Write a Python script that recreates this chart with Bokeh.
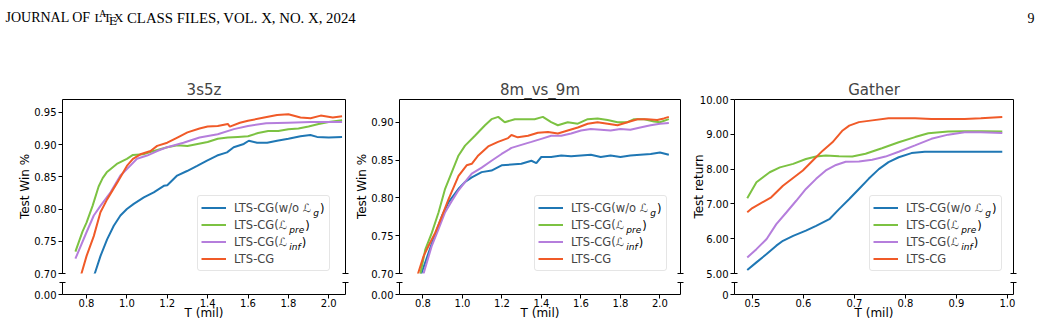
import math
from bokeh.plotting import figure
from bokeh.models import (Range1d, LinearAxis, FixedTicker, PrintfTickFormatter,
                          Label, Legend, LegendItem)
from bokeh.layouts import column, row
from bokeh.embed import file_html
from bokeh.resources import INLINE

# ---------------- data: 3s5z ----------------
s3_wo_t = [0.745, 0.79, 0.841, 0.869, 0.902, 0.935, 0.968, 1.0, 1.034, 1.084, 1.133, 1.183, 1.2, 1.249,
           1.298, 1.348, 1.397, 1.447, 1.496, 1.529, 1.579, 1.604, 1.645, 1.695, 1.744, 1.80, 1.86,
           1.909, 1.942, 2.0, 2.066]
s3_wo_v = [0.625, 0.665, 0.70, 0.727, 0.753, 0.774, 0.790, 0.80, 0.808, 0.818, 0.826, 0.836, 0.837, 0.852,
           0.859, 0.867, 0.875, 0.883, 0.888, 0.896, 0.901, 0.906, 0.903, 0.903, 0.906, 0.909, 0.913,
           0.915, 0.912, 0.911, 0.912]
s3_pre_t = [0.745, 0.78, 0.80, 0.83, 0.86, 0.88, 0.90, 0.95, 1.00, 1.03, 1.08, 1.12, 1.2, 1.25, 1.3, 1.35,
            1.4, 1.45, 1.5, 1.55, 1.6, 1.65, 1.7, 1.75, 1.8, 1.85, 1.9, 1.95, 2.0, 2.066]
s3_pre_v = [0.734, 0.765, 0.779, 0.805, 0.835, 0.848, 0.857, 0.870, 0.878, 0.884, 0.885, 0.889, 0.896,
            0.899, 0.898, 0.901, 0.904, 0.909, 0.911, 0.912, 0.913, 0.918, 0.921, 0.921, 0.924, 0.925,
            0.928, 0.932, 0.935, 0.938]
s3_inf_t = [0.745, 0.8, 0.836, 0.869, 0.919, 0.968, 1.0, 1.05, 1.10, 1.15, 1.2, 1.28, 1.36, 1.45, 1.53,
            1.60, 1.69, 1.80, 1.91, 2.0, 2.066]
s3_inf_v = [0.723, 0.764, 0.790, 0.805, 0.826, 0.852, 0.862, 0.878, 0.883, 0.890, 0.896, 0.903, 0.911,
            0.916, 0.924, 0.929, 0.933, 0.934, 0.935, 0.935, 0.935]
s3_cg_t = [0.745, 0.775, 0.8, 0.836, 0.869, 0.902, 0.952, 1.0, 1.03, 1.067, 1.117, 1.15, 1.2, 1.25, 1.30,
           1.36, 1.40, 1.45, 1.50, 1.51, 1.56, 1.60, 1.68, 1.744, 1.80, 1.86, 1.91, 1.96, 2.02, 2.066]
s3_cg_v = [0.675, 0.70, 0.727, 0.758, 0.795, 0.815, 0.841, 0.867, 0.878, 0.885, 0.890, 0.898, 0.903,
           0.911, 0.919, 0.925, 0.928, 0.929, 0.932, 0.928, 0.934, 0.937, 0.942, 0.946, 0.947, 0.942,
           0.941, 0.945, 0.942, 0.944]

# ---------------- data: 8m_vs_9m ----------------
m8_wo_t = [0.745, 0.792, 0.829, 0.862, 0.896, 0.929, 0.98, 1.013, 1.047, 1.097, 1.147, 1.198, 1.248,
           1.298, 1.349, 1.374, 1.399, 1.449, 1.5, 1.55, 1.6, 1.65, 1.70, 1.75, 1.80, 1.85, 1.90, 1.953,
           2.0, 2.045]
m8_wo_v = [0.665, 0.70, 0.728, 0.752, 0.776, 0.794, 0.812, 0.821, 0.827, 0.834, 0.836, 0.843, 0.844,
           0.845, 0.849, 0.846, 0.854, 0.854, 0.856, 0.855, 0.856, 0.857, 0.854, 0.856, 0.854, 0.856,
           0.857, 0.858, 0.860, 0.857]
m8_pre_t = [0.745, 0.787, 0.812, 0.845, 0.879, 0.912, 0.946, 0.98, 1.013, 1.063, 1.114, 1.147, 1.181,
            1.214, 1.265, 1.315, 1.365, 1.407, 1.449, 1.483, 1.533, 1.584, 1.634, 1.684, 1.735, 1.785,
            1.835, 1.869, 1.92, 1.97, 2.0, 2.045]
m8_pre_v = [0.67, 0.70, 0.732, 0.754, 0.781, 0.812, 0.834, 0.856, 0.869, 0.882, 0.896, 0.904, 0.907,
            0.900, 0.904, 0.904, 0.904, 0.907, 0.900, 0.896, 0.900, 0.898, 0.904, 0.905, 0.903, 0.900,
            0.900, 0.904, 0.904, 0.901, 0.900, 0.904]
m8_inf_t = [0.745, 0.803, 0.845, 0.879, 0.912, 0.946, 0.98, 1.013, 1.047, 1.097, 1.147, 1.198, 1.248,
            1.298, 1.349, 1.399, 1.449, 1.5, 1.55, 1.6, 1.65, 1.70, 1.75, 1.80, 1.85, 1.90, 1.953, 2.0,
            2.045]
m8_inf_v = [0.66, 0.70, 0.737, 0.759, 0.781, 0.796, 0.810, 0.821, 0.832, 0.840, 0.849, 0.858, 0.866,
            0.870, 0.874, 0.878, 0.882, 0.882, 0.885, 0.889, 0.891, 0.890, 0.889, 0.891, 0.890, 0.893,
            0.896, 0.898, 0.899]
m8_cg_t = [0.745, 0.775, 0.803, 0.829, 0.862, 0.896, 0.929, 0.980, 1.021, 1.047, 1.08, 1.13, 1.18, 1.231,
           1.248, 1.28, 1.332, 1.382, 1.433, 1.483, 1.533, 1.584, 1.634, 1.684, 1.735, 1.785, 1.835,
           1.886, 1.936, 1.986, 2.02, 2.045]
m8_cg_v = [0.675, 0.70, 0.723, 0.737, 0.754, 0.776, 0.798, 0.829, 0.843, 0.845, 0.856, 0.868, 0.874,
           0.879, 0.883, 0.880, 0.882, 0.886, 0.887, 0.885, 0.889, 0.893, 0.898, 0.900, 0.898, 0.896,
           0.900, 0.904, 0.904, 0.903, 0.905, 0.907]

# ---------------- data: Gather ----------------
ga_wo_t = [0.49, 0.508, 0.528, 0.547, 0.56, 0.58, 0.605, 0.625, 0.651, 0.67, 0.69, 0.709, 0.728, 0.748,
           0.767, 0.787, 0.812, 0.838, 0.884, 0.94, 0.99]
ga_wo_v = [5.10, 5.32, 5.56, 5.80, 5.94, 6.08, 6.23, 6.37, 6.56, 6.85, 7.14, 7.43, 7.72, 8.0, 8.20, 8.34,
           8.46, 8.50, 8.50, 8.50, 8.50]
ga_pre_t = [0.49, 0.508, 0.534, 0.554, 0.58, 0.605, 0.625, 0.644, 0.67, 0.696, 0.722, 0.754, 0.787, 0.819,
            0.845, 0.884, 0.916, 0.95, 0.99]
ga_pre_v = [7.16, 7.62, 7.91, 8.05, 8.15, 8.29, 8.36, 8.39, 8.37, 8.36, 8.44, 8.60, 8.77, 8.92, 9.03,
            9.08, 9.09, 9.09, 9.08]
ga_inf_t = [0.49, 0.508, 0.528, 0.547, 0.567, 0.586, 0.605, 0.625, 0.644, 0.664, 0.683, 0.709, 0.735,
            0.761, 0.787, 0.819, 0.851, 0.884, 0.916, 0.948, 0.99]
ga_inf_v = [5.46, 5.70, 5.99, 6.42, 6.76, 7.09, 7.43, 7.72, 7.96, 8.12, 8.21, 8.22, 8.27, 8.36, 8.50,
            8.68, 8.87, 8.99, 9.06, 9.06, 9.04]
ga_cg_t = [0.49, 0.5, 0.537, 0.56, 0.599, 0.618, 0.638, 0.657, 0.677, 0.69, 0.709, 0.735, 0.767, 0.819,
           0.851, 0.884, 0.916, 0.948, 0.99]
ga_cg_v = [6.76, 6.88, 7.19, 7.52, 7.96, 8.24, 8.53, 8.77, 9.11, 9.25, 9.35, 9.40, 9.46, 9.46, 9.44,
           9.44, 9.44, 9.46, 9.50]

# ---------------- labels / ticks ----------------
titles = ["3s5z", "8m_vs_9m", "Gather"]
ylabels = ["Test Win %", "Test Win %", "Test return"]
xlabel = "T (mil)"
legend_main = ["LTS-CG(w/o ℒ", "LTS-CG(ℒ", "LTS-CG(ℒ", "LTS-CG"]
legend_sub = ["g", "pre", "inf", ""]
colors = ["#1f77b4", "#7cc242", "#b57edc", "#f05a28"]
yticks = [[0.70, 0.75, 0.80, 0.85, 0.90, 0.95],
          [0.70, 0.75, 0.80, 0.85, 0.90],
          [5.0, 6.0, 7.0, 8.0, 9.0, 10.0]]
xticks = [[0.8, 1.0, 1.2, 1.4, 1.6, 1.8, 2.0],
          [0.8, 1.0, 1.2, 1.4, 1.6, 1.8, 2.0],
          [0.5, 0.6, 0.7, 0.8, 0.9, 1.0]]
low_tick_fmt = ["%.2f", "%.2f", "%d"]
header_left = "JOURNAL OF"
header_right = "CLASS FILES, VOL. X, NO. X, 2024"
page_no = "9"

panel_data = [
    [(s3_wo_t, s3_wo_v), (s3_pre_t, s3_pre_v), (s3_inf_t, s3_inf_v), (s3_cg_t, s3_cg_v)],
    [(m8_wo_t, m8_wo_v), (m8_pre_t, m8_pre_v), (m8_inf_t, m8_inf_v), (m8_cg_t, m8_cg_v)],
    [(ga_wo_t, ga_wo_v), (ga_pre_t, ga_pre_v), (ga_inf_t, ga_inf_v), (ga_cg_t, ga_cg_v)],
]

# ---------------- layout ----------------
FONT = "DejaVu Sans"
HEAD_H, UP_H, LO_H = 75, 206, 44
UP_TOP, UP_BOT, LO_TOP, LO_BOT = 24, 8, 1, 31
panel_geo = [  # fig width, border left, border right, x range, y range, y-label standoff
    dict(w=352, bl=62, br=7, xr=(0.681, 2.083), yr=(0.70, 0.97), ls=-1),
    dict(w=336, bl=45, br=8, xr=(0.681, 2.104), yr=(0.70, 0.93), ls=-1),
    dict(w=353, bl=43, br=28, xr=(0.465, 1.012), yr=(5.0, 10.0), ls=-9),
]

DJV = {' ': 0.318, '(': 0.390, ')': 0.390, '-': 0.361, '/': 0.337, 'C': 0.698, 'G': 0.775,
       'L': 0.557, 'S': 0.635, 'T': 0.611, 'w': 0.818, 'o': 0.612, 'p': 0.635, 'r': 0.411,
       'e': 0.615, 'i': 0.278, 'n': 0.634, 'f': 0.352, 'g': 0.635}


def text_w(s, size):
    return sum(DJV.get(c, 0.6) for c in s) * size


def style_axis(ax, size="10px"):
    ax.axis_line_color = "black"
    ax.axis_line_width = 1
    ax.major_tick_line_color = "black"
    ax.major_tick_in = 0
    ax.major_tick_out = 4
    ax.minor_tick_line_color = "black"
    ax.minor_tick_in = 3
    ax.minor_tick_out = 3
    ax.major_label_text_font = FONT
    ax.major_label_text_font_size = size
    ax.major_label_text_color = "black"
    ax.major_label_standoff = 2
    ax.axis_label_text_font = FONT
    ax.axis_label_text_font_size = "12px"
    ax.axis_label_text_font_style = "normal"
    ax.axis_label_text_color = "black"


def blank_axis(ticker):
    ax = LinearAxis(ticker=ticker)
    style_axis(ax)
    ax.major_tick_out = 0
    ax.major_label_standoff = 0
    return ax


LEG_PAD, LEG_GLYPH, LEG_STAND, LEG_ROW, LEG_LW = 3, 25, 8, 17, 92
LEG_FS = 11.5
LSCRIPT_ADV = 9.5


def build_panel(k):
    g = panel_geo[k]
    fw, bl, br = g["w"], g["bl"], g["br"]
    xr = Range1d(*g["xr"])
    up = figure(width=fw, height=UP_H, x_range=xr, y_range=Range1d(*g["yr"]),
                output_backend="svg", toolbar_location=None, x_axis_location=None,
                y_axis_location=None, min_border_left=bl, min_border_right=br,
                min_border_top=UP_TOP, min_border_bottom=UP_BOT, title=titles[k])
    up.outline_line_color = None
    up.grid.visible = False
    up.title.align = "center"
    up.title.text_font = FONT
    up.title.text_font_size = "15px"
    up.title.text_font_style = "normal"
    up.title.standoff = 2

    ya = LinearAxis(ticker=FixedTicker(ticks=yticks[k], minor_ticks=[g["yr"][0]]),
                    formatter=PrintfTickFormatter(format="%.2f"), axis_label=ylabels[k])
    style_axis(ya)
    ya.axis_label_standoff = g["ls"]
    up.add_layout(ya, "left")
    up.add_layout(blank_axis(FixedTicker(ticks=[], minor_ticks=[g["yr"][0]])), "right")
    top = blank_axis(FixedTicker(ticks=[]))
    top.minor_tick_out = 0
    top.minor_tick_in = 0
    up.add_layout(top, "above")

    rends = []
    for (t, v), c in zip(panel_data[k], colors):
        rends.append(up.line(t, v, line_width=2, color=c))

    lx, ly = 135, 2
    leg = Legend(items=[LegendItem(label=legend_main[i], renderers=[rends[i]]) for i in range(4)],
                 location=(lx, ly), padding=LEG_PAD, margin=0, spacing=0,
                 glyph_width=LEG_GLYPH, glyph_height=LEG_ROW, label_height=LEG_ROW,
                 label_width=LEG_LW, label_standoff=LEG_STAND,
                 label_text_font=FONT, label_text_font_size=f"{LEG_FS}px",
                 border_line_color="#cccccc", border_line_width=1,
                 background_fill_color="white", background_fill_alpha=0.0)
    if "border_radius" in Legend.properties():
        leg.border_radius = 3
    up.add_layout(leg)
    box_top = ly + 2 * LEG_PAD + 4 * LEG_ROW
    text_x = lx + LEG_PAD + LEG_GLYPH + LEG_STAND
    for i in range(4):
        sub = legend_sub[i]
        if not sub:
            continue
        cy = box_top - LEG_PAD - (i + 0.5) * LEG_ROW
        sx = text_x + text_w(legend_main[i][:-1], LEG_FS) + LSCRIPT_ADV
        up.add_layout(Label(x=sx, y=cy - 3.5, x_units="screen", y_units="screen", text=sub,
                            text_font=FONT, text_font_size="9px", text_font_style="italic",
                            text_baseline="alphabetic", text_align="left", text_color="black",
                            level="overlay"))
        up.add_layout(Label(x=sx + text_w(sub, 9) + 1, y=cy, x_units="screen", y_units="screen",
                            text=")", text_font=FONT, text_font_size=f"{LEG_FS}px",
                            text_baseline="middle", text_align="left", text_color="black",
                            level="overlay"))

    lo = figure(width=fw, height=LO_H, x_range=xr, y_range=Range1d(0, 1),
                output_backend="svg", toolbar_location=None, x_axis_location=None,
                y_axis_location=None, min_border_left=bl, min_border_right=br,
                min_border_top=LO_TOP, min_border_bottom=LO_BOT)
    lo.outline_line_color = None
    lo.grid.visible = False
    la = LinearAxis(ticker=FixedTicker(ticks=[0], minor_ticks=[1]),
                    formatter=PrintfTickFormatter(format=low_tick_fmt[k]))
    style_axis(la)
    lo.add_layout(la, "left")
    lo.add_layout(blank_axis(FixedTicker(ticks=[], minor_ticks=[1])), "right")
    xa = LinearAxis(ticker=FixedTicker(ticks=xticks[k]),
                    formatter=PrintfTickFormatter(format="%.1f"), axis_label=xlabel)
    style_axis(xa)
    xa.major_label_standoff = 0
    xa.axis_label_standoff = -4
    lo.add_layout(xa, "below")
    return column(up, lo, spacing=0)


head = figure(width=1041, height=HEAD_H, x_range=Range1d(0, 1), y_range=Range1d(0, 1),
              output_backend="svg", toolbar_location=None, x_axis_location=None,
              y_axis_location=None, min_border=0)
head.outline_line_color = None
head.grid.visible = False
SERIF = "Liberation Serif"


def hlab(x, ypage, text, size=14):
    head.add_layout(Label(x=x, y=HEAD_H - ypage, x_units="screen", y_units="screen", text=text,
                          text_font=SERIF, text_font_size=f"{size}px", text_baseline="alphabetic",
                          text_align="left", text_color="black"))


hlab(5, 17, header_left)
hlab(94, 17, "L", 13)
hlab(98.8, 13.8, "A", 9.5)
hlab(103, 17, "T", 13)
hlab(108.6, 19.6, "E", 13)
hlab(113.6, 17, "X", 13)
hlab(126.5, 17, header_right, 14.8)
hlab(1027, 17, page_no)

layout = column(head, row(*[build_panel(k) for k in range(3)], spacing=0), spacing=0)
open("out.html", "w").write(file_html(layout, INLINE))
